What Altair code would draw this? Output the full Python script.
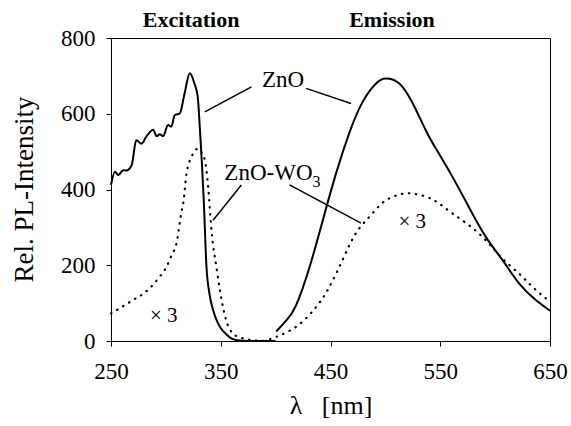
import altair as alt
import pandas as pd

# --- data ---
exc_zno_wl = [250, 253.6, 256.7, 261, 264, 268.8, 273, 277.8, 282, 288.5, 291.5, 294.5, 297.5, 302, 305, 308, 312.7, 317, 321.8, 326, 329, 331, 334.5, 337, 340, 343, 347, 351, 355, 360, 365, 375, 400]
exc_zno_I = [412, 447, 438, 451, 450, 464, 530, 521, 539, 558, 541, 546, 541, 570, 566, 596, 601, 653, 707, 680, 645, 560, 372, 196, 120, 82, 50, 30, 18, 6, 2, 0, 0]

exc_wo3_wl = [250, 260, 270, 278, 285.5, 293, 300.6, 305, 309.7, 314, 315.8, 318.8, 323.4, 329.4, 332, 335.5, 338.5, 341.5, 346, 352, 356, 361, 367, 373, 385, 400]
exc_wo3_I = [73, 90, 108, 122, 140, 165, 196, 225, 258, 337, 363, 442, 486, 508, 500, 478, 407, 293, 196, 90, 45, 20, 10, 5, 1, 0]

em_zno_wl = [400.6, 410, 418.8, 431, 443, 455, 467, 479, 491.5, 500.6, 512.7, 525, 537, 546, 561, 576, 591.5, 606.6, 621.8, 637, 650]
em_zno_I = [25, 55, 95, 196, 319, 442, 548, 630, 680, 693, 680, 627, 555, 508, 434, 354, 275, 214, 152, 108, 80]

em_wo3_wl = [395, 400.6, 418.8, 437, 449, 461, 473, 485.5, 497.5, 509.7, 522, 537, 549, 561, 576, 591.5, 606.6, 621.8, 634, 646, 650]
em_wo3_I = [5, 11, 38, 90, 143, 214, 284, 328, 365, 384, 390, 381, 363, 337, 306, 266, 218, 178, 143, 113, 105]

x_ticks = [250, 350, 450, 550, 650]
y_ticks = [0, 200, 400, 600, 800]

# annotation leader lines (data units)
lead_x = [378, 427.8, 368.8, 412.7]
lead_y = [671, 667, 412, 412]
lead_x2 = [335.5, 468.7, 343, 477.8]
lead_y2 = [605, 627, 319, 311]

FONT = "Liberation Serif"

def frame(wl, inten, name):
    return pd.DataFrame({"wl": wl, "I": inten, "series": name})

noisy_df = frame(exc_zno_wl, exc_zno_I, "exc_zno")
em_solid_df = frame(em_zno_wl, em_zno_I, "em_zno")
exc_dot_df = frame(exc_wo3_wl, exc_wo3_I, "exc_wo3")
em_dot_df = frame(em_wo3_wl, em_wo3_I, "em_wo3")

xs = alt.Scale(domain=[250, 650], nice=False, zero=False)
ys = alt.Scale(domain=[0, 800], nice=False)

x_enc = alt.X("wl:Q", scale=xs, axis=alt.Axis(
    values=x_ticks, title="λ\u00a0\u00a0 [nm]", titleFontSize=26, titleFont=FONT, titleFontWeight="normal",
    titleY=72, titleBaseline="alphabetic", titleColor="black",
    labelFont=FONT, labelFontSize=23, labelColor="black", labelPadding=14,
    tickSize=5, tickColor="black", domainColor="black", grid=False, labelFlush=False))
y_enc = alt.Y("I:Q", scale=ys, axis=alt.Axis(
    values=y_ticks, title="Rel. PL-Intensity", titleFontSize=27, titleFont=FONT, titleFontWeight="normal",
    titleX=-79, titleY=151, titleAngle=-90, titleAlign="center", titleBaseline="alphabetic", titleColor="black",
    labelFont=FONT, labelFontSize=23, labelColor="black", labelPadding=11,
    tickSize=5, tickColor="black", domainColor="black", grid=False, labelFlush=False))

noisy = alt.Chart(noisy_df).mark_line(color="black", strokeWidth=2, interpolate="monotone").encode(
    x=x_enc, y=y_enc)
em_solid = alt.Chart(em_solid_df).mark_line(color="black", strokeWidth=2, interpolate="natural").encode(
    x="wl:Q", y="I:Q")
exc_dot = alt.Chart(exc_dot_df).mark_line(color="black", strokeWidth=2.2, strokeDash=[0.5, 6.5], strokeCap="round",
                                          interpolate="monotone").encode(x="wl:Q", y="I:Q")
em_dot = alt.Chart(em_dot_df).mark_line(color="black", strokeWidth=2.2, strokeDash=[0.5, 6.5], strokeCap="round",
                                        interpolate="natural").encode(x="wl:Q", y="I:Q")

lead_df = pd.DataFrame({"x": lead_x, "y": lead_y, "x2": lead_x2, "y2": lead_y2})
leaders = alt.Chart(lead_df).mark_rule(color="black", strokeWidth=1.5).encode(
    x="x:Q", y="y:Q", x2="x2:Q", y2="y2:Q")

lab_df = pd.DataFrame({
    "x": [406.8, 298, 524.5],
    "y": [671, 51, 298],
    "t": ["ZnO", "× 3", "× 3"],
    "s": [23, 21, 21],
})
labels = alt.Chart(lab_df).mark_text(font=FONT, color="black", baseline="alphabetic", align="center").encode(
    x="x:Q", y="y:Q", text="t:N", size=alt.Size("s:Q", scale=None, legend=None))

wo_df = pd.DataFrame({"x": [433.6], "y": [425], "t": ["ZnO-WO"]})
wo = alt.Chart(wo_df).mark_text(font=FONT, fontSize=23, color="black", baseline="alphabetic", align="right").encode(
    x="x:Q", y="y:Q", text="t:N")
sub_df = pd.DataFrame({"x": [433.6], "y": [407], "t": ["3"]})
sub = alt.Chart(sub_df).mark_text(font=FONT, fontSize=16, color="black", baseline="alphabetic", align="left").encode(
    x="x:Q", y="y:Q", text="t:N")

head_df = pd.DataFrame({"x": [323, 506], "y": [828, 828], "t": ["Excitation", "Emission"]})
heads = alt.Chart(head_df).mark_text(font=FONT, fontSize=22, fontWeight="bold", color="black",
                                     baseline="alphabetic", align="center").encode(
    x="x:Q", y="y:Q", text="t:N")

chart = alt.layer(noisy, em_solid, exc_dot, em_dot, leaders, labels, wo, sub, heads).properties(
    width=439, height=303,
    autosize=alt.AutoSizeParams(type="none"),
    padding={"left": 111, "top": 38, "right": 21, "bottom": 85},
    background="white",
).configure_view(stroke="black", strokeWidth=1).configure_axis(
    labelFont=FONT, titleFont=FONT
).configure_text(font=FONT)

chart.save("out.html", embed_options={"renderer": "svg", "actions": False})
